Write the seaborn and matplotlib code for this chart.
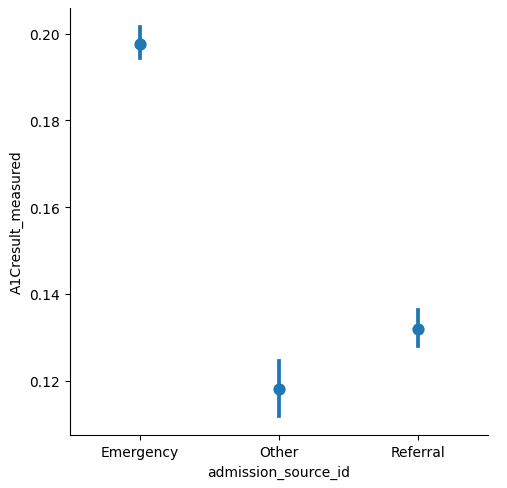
import numpy as np
import pandas as pd
import matplotlib
matplotlib.use("Agg")
import matplotlib.pyplot as plt
import seaborn as sns

# valori
sources = ["Emergency", "Other", "Referral"]
means = [0.1977, 0.1180, 0.1319]
ci_low = [0.1943, 0.1119, 0.1281]
ci_high = [0.2015, 0.1245, 0.1363]

# tabella: media e limiti dell'intervallo per ogni categoria
df = pd.DataFrame({
    "admission_source_id": sources * 3,
    "A1Cresult_measured": means + ci_low + ci_high,
})

fig = plt.figure(figsize=(5.07, 4.89), dpi=100)
ax = fig.add_axes([0.138, 0.108, 0.824, 0.874])

sns.pointplot(data=df, x="admission_source_id", y="A1Cresult_measured",
              order=sources, estimator="median",
              errorbar=lambda v: (np.min(v), np.max(v)),
              linestyle="none", ax=ax)
sns.despine(ax=ax)

fig.savefig("out.png", dpi=100)
